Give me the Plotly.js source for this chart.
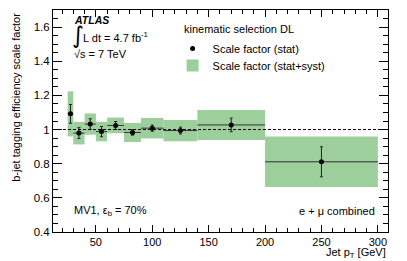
<!DOCTYPE html>
<html>
<head>
<meta charset="utf-8">
<script src="https://cdn.plot.ly/plotly-3.0.1.min.js"></script>
<style>html,body{margin:0;padding:0;background:#fff;}#chart{width:407px;height:261px;}</style>
</head>
<body>
<div id="chart"></div>
<script>
// Bin edges of jet pT [GeV]
const binLow  = [25, 30, 40, 50, 60, 75, 90, 110, 140, 200];
const binHigh = [30, 40, 50, 60, 75, 90, 110, 140, 200, 300];
// Scale factor central values
const scaleFactor = [1.092, 0.979, 1.032, 0.988, 1.024, 0.983, 1.008, 0.994, 1.027, 0.811];
// Statistical uncertainty
const statErr = [0.055, 0.032, 0.031, 0.030, 0.023, 0.016, 0.018, 0.020, 0.040, 0.088];
// Total (stat+syst) uncertainty
const totErr = [0.132, 0.066, 0.062, 0.057, 0.046, 0.056, 0.060, 0.062, 0.088, 0.148];
// Tick values
const xTicks = [50, 100, 150, 200, 250, 300];
const yTicks = [0.4, 0.6, 0.8, 1, 1.2, 1.4, 1.6];

const centers = binLow.map((l, i) => (l + binHigh[i]) / 2);
const widths = binLow.map((l, i) => binHigh[i] - l);
const halfW = widths.map(w => w / 2);

const FONT = 'Liberation Sans, Arial, Helvetica, sans-serif';
const green = '#9ccf9c';

const traces = [
  {
    type: 'bar',
    name: 'Scale factor (stat+syst)',
    x: centers,
    y: totErr.map(e => 2 * e),
    base: scaleFactor.map((v, i) => v - totErr[i]),
    width: widths,
    marker: {color: green, line: {width: 0}},
    legend: 'legend2',
    hoverinfo: 'skip'
  },
  {
    type: 'scatter',
    mode: 'markers',
    name: 'Scale factor (stat)',
    x: centers,
    y: scaleFactor,
    marker: {color: 'black', size: 5, symbol: 'circle'},
    error_y: {type: 'data', array: statErr, visible: true, color: '#222', thickness: 1, width: 1.5},
    error_x: {type: 'data', array: halfW, visible: true, color: '#333', thickness: 1, width: 0},
    legend: 'legend'
  }
];

const legendBase = {
  xanchor: 'left', yanchor: 'top',
  bgcolor: 'rgba(0,0,0,0)', borderwidth: 0,
  font: {family: FONT, size: 11, color: '#000'},
  itemwidth: 30
};

const layout = {
  width: 407, height: 261,
  margin: {l: 53, r: 19, t: 10, b: 29, pad: 0},
  paper_bgcolor: '#fff', plot_bgcolor: '#fff',
  font: {family: FONT, size: 11, color: '#000'},
  barmode: 'overlay',
  showlegend: true,
  legend: Object.assign({x: 0.357, y: 0.892}, legendBase),
  legend2: Object.assign({x: 0.357, y: 0.815}, legendBase),
  xaxis: {
    range: [12, 309],
    tickvals: xTicks,
    ticks: 'inside', ticklen: 7, tickwidth: 1, tickcolor: '#000',
    minor: {dtick: 10, tick0: 0, ticks: 'inside', ticklen: 4, tickcolor: '#000', showgrid: false},
    showline: true, linecolor: '#000', linewidth: 1, mirror: 'allticks',
    showgrid: false, zeroline: false,
    tickfont: {family: FONT, size: 11, color: '#000'}
  },
  yaxis: {
    range: [0.4, 1.7],
    tickvals: yTicks,
    ticktext: yTicks.map(v => String(v)),
    ticks: 'inside', ticklen: 9, tickwidth: 1, tickcolor: '#000',
    minor: {dtick: 0.05, tick0: 0.4, ticks: 'inside', ticklen: 5, tickcolor: '#000', showgrid: false},
    showline: true, linecolor: '#000', linewidth: 1, mirror: 'allticks',
    showgrid: false, zeroline: false,
    tickfont: {family: FONT, size: 11.5, color: '#000'}
  },
  shapes: [
    {type: 'line', xref: 'paper', x0: 0, x1: 1, yref: 'y', y0: 1, y1: 1,
     line: {color: '#000', width: 1, dash: '3px,2px'}, layer: 'above'}
  ],
  annotations: [
    {xref: 'paper', yref: 'paper', x: -0.113, y: 0.995, xanchor: 'center', yanchor: 'top',
     text: 'b-jet tagging efficiency scale factor', textangle: -90, showarrow: false,
     font: {family: FONT, size: 11}},
    {xref: 'paper', yref: 'paper', x: 1, y: -0.093, xanchor: 'right', yanchor: 'middle',
     text: 'Jet p<sub>T</sub> [GeV]', showarrow: false, font: {family: FONT, size: 11}},
    {xref: 'paper', yref: 'paper', x: 0.058, y: 0.957, xanchor: 'left', yanchor: 'middle',
     text: '<b><i>ATLAS</i></b>', showarrow: false, font: {family: FONT, size: 10.5}},
    {xref: 'paper', yref: 'paper', x: 0.052, y: 0.888, xanchor: 'left', yanchor: 'middle',
     text: '\u222B', showarrow: false, font: {family: 'DejaVu Sans, sans-serif', size: 23}},
    {xref: 'paper', yref: 'paper', x: 0.083, y: 0.88, xanchor: 'left', yanchor: 'middle',
     text: 'L dt = 4.7 fb<sup>-1</sup>', showarrow: false, font: {family: FONT, size: 11}},
    {xref: 'paper', yref: 'paper', x: 0.058, y: 0.803, xanchor: 'left', yanchor: 'middle',
     text: '\u221As = 7 TeV', showarrow: false, font: {family: FONT, size: 11}},
    {xref: 'paper', yref: 'paper', x: 0.385, y: 0.915, xanchor: 'left', yanchor: 'middle',
     text: 'kinematic selection DL', showarrow: false, font: {family: FONT, size: 11}},
    {xref: 'paper', yref: 'paper', x: 0.058, y: 0.095, xanchor: 'left', yanchor: 'middle',
     text: 'MV1, \u03B5<sub>b</sub> = 70%', showarrow: false, font: {family: FONT, size: 11}},
    {xref: 'paper', yref: 'paper', x: 0.967, y: 0.095, xanchor: 'right', yanchor: 'middle',
     text: 'e + \u03BC combined', showarrow: false, font: {family: FONT, size: 11}}
  ]
};

Plotly.newPlot('chart', traces, layout, {staticPlot: true, displayModeBar: false});
</script>
</body>
</html>
